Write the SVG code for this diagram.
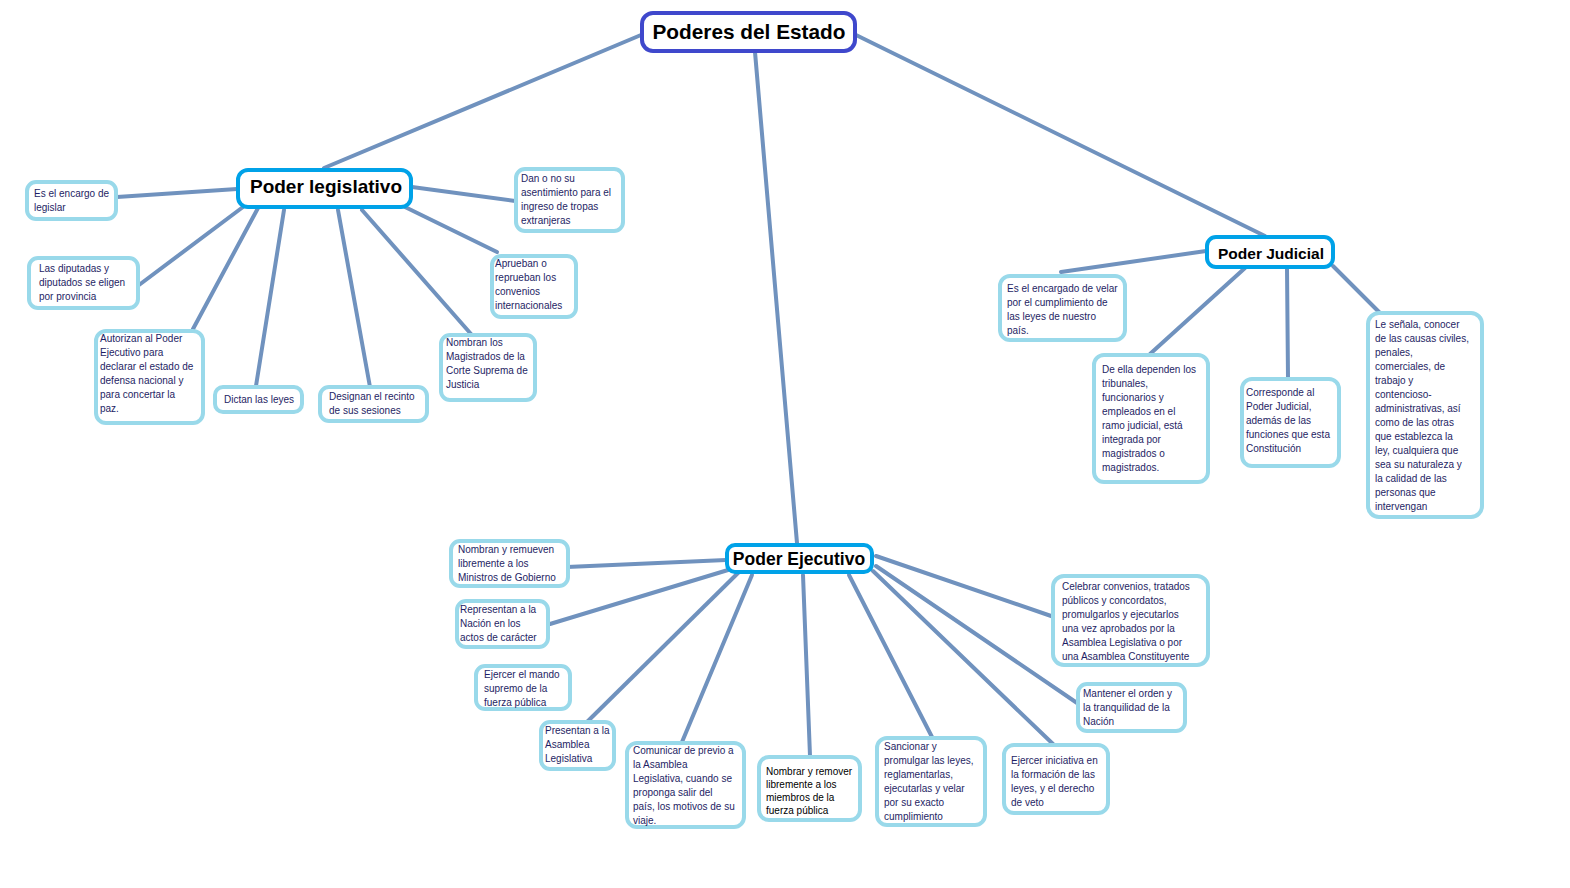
<svg xmlns="http://www.w3.org/2000/svg" width="1570" height="888" viewBox="0 0 1570 888">
<style>
.bg{fill:#ffffff}
.leaf{fill:#ffffff;stroke:#99D9EA;stroke-width:4}
.main{fill:#ffffff;stroke:#00A2E8;stroke-width:4}
.root{fill:#ffffff;stroke:#3F48CC;stroke-width:4}
.con{stroke:#7092BE;stroke-width:4;stroke-linecap:round;fill:none}
.t{font-family:"Liberation Sans",Arial,sans-serif;font-size:10px;fill:#1E1E64}
.tb{font-family:"Liberation Sans",Arial,sans-serif;font-size:10px;fill:#000000}
.h{font-family:"Liberation Sans",Arial,sans-serif;font-weight:bold;fill:#000000}
</style>
<rect class="bg" x="0" y="0" width="1570" height="888"/>
<g id="connectors">
<line class="con" x1="641" y1="35" x2="324" y2="168"/>
<line class="con" x1="856" y1="35" x2="1265" y2="236"/>
<line class="con" x1="755" y1="52" x2="797" y2="543"/>
<line class="con" x1="237" y1="189" x2="117" y2="197"/>
<line class="con" x1="243" y1="207" x2="139" y2="285"/>
<line class="con" x1="258" y1="208" x2="193" y2="329"/>
<line class="con" x1="284" y1="210" x2="256" y2="386"/>
<line class="con" x1="338" y1="210" x2="370" y2="387"/>
<line class="con" x1="362" y1="210" x2="471" y2="334"/>
<line class="con" x1="405" y1="207" x2="497" y2="252"/>
<line class="con" x1="412" y1="187" x2="515" y2="201"/>
<line class="con" x1="1206" y1="251" x2="1061" y2="272"/>
<line class="con" x1="1245" y1="268" x2="1150" y2="354"/>
<line class="con" x1="1287" y1="268" x2="1288" y2="378"/>
<line class="con" x1="1333" y1="266" x2="1380" y2="313"/>
<line class="con" x1="726" y1="560" x2="567" y2="567"/>
<line class="con" x1="728" y1="570" x2="550" y2="624"/>
<line class="con" x1="738" y1="573" x2="588" y2="721"/>
<line class="con" x1="752" y1="575" x2="682" y2="742"/>
<line class="con" x1="803" y1="575" x2="810" y2="756"/>
<line class="con" x1="849" y1="575" x2="932" y2="737"/>
<line class="con" x1="873" y1="571" x2="1053" y2="744"/>
<line class="con" x1="876" y1="566" x2="1080" y2="705"/>
<line class="con" x1="876" y1="556" x2="1054" y2="617"/>
</g>
<g id="root">
<rect class="root" x="642" y="13" width="213" height="38" rx="11"/>
<text class="h" x="749" y="39" font-size="20.8" text-anchor="middle">Poderes del Estado</text>
</g>
<g id="legislativo">
<rect class="main" x="238" y="170" width="173" height="37" rx="10"/>
<text class="h" x="326" y="193" font-size="19" text-anchor="middle">Poder legislativo</text>
</g>
<g id="judicial">
<rect class="main" x="1207" y="237" width="126" height="30" rx="9"/>
<text class="h" x="1271" y="259" font-size="15.5" text-anchor="middle">Poder Judicial</text>
</g>
<g id="ejecutivo">
<rect class="main" x="727" y="545" width="145" height="27" rx="8"/>
<text class="h" x="799" y="565" font-size="17.5" text-anchor="middle">Poder Ejecutivo</text>
</g>
<g id="leg1">
<rect class="leaf" x="27" y="182" width="89" height="37" rx="9"/>
<text class="t" x="34" y="197">Es el encargo de</text>
<text class="t" x="34" y="211">legislar</text>
</g>
<g id="leg2">
<rect class="leaf" x="29" y="258" width="109" height="50" rx="9"/>
<text class="t" x="39" y="272">Las diputadas y</text>
<text class="t" x="39" y="286">diputados se eligen</text>
<text class="t" x="39" y="300">por provincia</text>
</g>
<g id="leg3">
<rect class="leaf" x="96" y="331" width="107" height="92" rx="10"/>
<text class="t" x="100" y="342">Autorizan al Poder</text>
<text class="t" x="100" y="356">Ejecutivo para</text>
<text class="t" x="100" y="370">declarar el estado de</text>
<text class="t" x="100" y="384">defensa nacional y</text>
<text class="t" x="100" y="398">para concertar la</text>
<text class="t" x="100" y="412">paz.</text>
</g>
<g id="leg4">
<rect class="leaf" x="215" y="387" width="87" height="25" rx="8"/>
<text class="t" x="224" y="403">Dictan las leyes</text>
</g>
<g id="leg5">
<rect class="leaf" x="320" y="387" width="107" height="34" rx="9"/>
<text class="t" x="329" y="400">Designan el recinto</text>
<text class="t" x="329" y="414">de sus sesiones</text>
</g>
<g id="leg6">
<rect class="leaf" x="441" y="335" width="94" height="65" rx="9"/>
<text class="t" x="446" y="346">Nombran los</text>
<text class="t" x="446" y="360">Magistrados de la</text>
<text class="t" x="446" y="374">Corte Suprema de</text>
<text class="t" x="446" y="388">Justicia</text>
</g>
<g id="leg7">
<rect class="leaf" x="492" y="256" width="84" height="61" rx="9"/>
<text class="t" x="495" y="267">Aprueban o</text>
<text class="t" x="495" y="281">reprueban los</text>
<text class="t" x="495" y="295">convenios</text>
<text class="t" x="495" y="309">internacionales</text>
</g>
<g id="leg8">
<rect class="leaf" x="516" y="169" width="107" height="62" rx="9"/>
<text class="t" x="521" y="182">Dan o no su</text>
<text class="t" x="521" y="196">asentimiento para el</text>
<text class="t" x="521" y="210">ingreso de tropas</text>
<text class="t" x="521" y="224">extranjeras</text>
</g>
<g id="jud1">
<rect class="leaf" x="1000" y="276" width="125" height="64" rx="10"/>
<text class="t" x="1007" y="292">Es el encargado de velar</text>
<text class="t" x="1007" y="306">por el cumplimiento de</text>
<text class="t" x="1007" y="320">las leyes de nuestro</text>
<text class="t" x="1007" y="334">país.</text>
</g>
<g id="jud2">
<rect class="leaf" x="1094" y="355" width="114" height="127" rx="10"/>
<text class="t" x="1102" y="373">De ella dependen los</text>
<text class="t" x="1102" y="387">tribunales,</text>
<text class="t" x="1102" y="401">funcionarios y</text>
<text class="t" x="1102" y="415">empleados en el</text>
<text class="t" x="1102" y="429">ramo judicial, está</text>
<text class="t" x="1102" y="443">integrada por</text>
<text class="t" x="1102" y="457">magistrados o</text>
<text class="t" x="1102" y="471">magistrados.</text>
</g>
<g id="jud3">
<rect class="leaf" x="1242" y="379" width="97" height="87" rx="10"/>
<text class="t" x="1246" y="396">Corresponde al</text>
<text class="t" x="1246" y="410">Poder Judicial,</text>
<text class="t" x="1246" y="424">además de las</text>
<text class="t" x="1246" y="438">funciones que esta</text>
<text class="t" x="1246" y="452">Constitución</text>
</g>
<g id="jud4">
<rect class="leaf" x="1368" y="313" width="114" height="204" rx="11"/>
<text class="t" x="1375" y="328">Le señala, conocer</text>
<text class="t" x="1375" y="342">de las causas civiles,</text>
<text class="t" x="1375" y="356">penales,</text>
<text class="t" x="1375" y="370">comerciales, de</text>
<text class="t" x="1375" y="384">trabajo y</text>
<text class="t" x="1375" y="398">contencioso-</text>
<text class="t" x="1375" y="412">administrativas, así</text>
<text class="t" x="1375" y="426">como de las otras</text>
<text class="t" x="1375" y="440">que establezca la</text>
<text class="t" x="1375" y="454">ley, cualquiera que</text>
<text class="t" x="1375" y="468">sea su naturaleza y</text>
<text class="t" x="1375" y="482">la calidad de las</text>
<text class="t" x="1375" y="496">personas que</text>
<text class="t" x="1375" y="510">intervengan</text>
</g>
<g id="eje1">
<rect class="leaf" x="451" y="541" width="117" height="45" rx="9"/>
<text class="t" x="458" y="553">Nombran y remueven</text>
<text class="t" x="458" y="567">libremente a los</text>
<text class="t" x="458" y="581">Ministros de Gobierno</text>
</g>
<g id="eje2">
<rect class="leaf" x="457" y="601" width="91" height="46" rx="9"/>
<text class="t" x="460" y="613">Representan a la</text>
<text class="t" x="460" y="627">Nación en los</text>
<text class="t" x="460" y="641">actos de carácter</text>
</g>
<g id="eje3">
<rect class="leaf" x="476" y="666" width="94" height="43" rx="9"/>
<text class="t" x="484" y="678">Ejercer el mando</text>
<text class="t" x="484" y="692">supremo de la</text>
<text class="t" x="484" y="706">fuerza pública</text>
</g>
<g id="eje4">
<rect class="leaf" x="541" y="722" width="73" height="47" rx="9"/>
<text class="t" x="545" y="734">Presentan a la</text>
<text class="t" x="545" y="748">Asamblea</text>
<text class="t" x="545" y="762">Legislativa</text>
</g>
<g id="eje5">
<rect class="leaf" x="627" y="743" width="117" height="84" rx="10"/>
<text class="t" x="633" y="754">Comunicar de previo a</text>
<text class="t" x="633" y="768">la Asamblea</text>
<text class="t" x="633" y="782">Legislativa, cuando se</text>
<text class="t" x="633" y="796">proponga salir del</text>
<text class="t" x="633" y="810">país, los motivos de su</text>
<text class="t" x="633" y="824">viaje.</text>
</g>
<g id="eje6">
<rect class="leaf" x="759" y="757" width="101" height="63" rx="10"/>
<text class="tb" x="766" y="775">Nombrar y remover</text>
<text class="tb" x="766" y="788">libremente a los</text>
<text class="tb" x="766" y="801">miembros de la</text>
<text class="tb" x="766" y="814">fuerza pública</text>
</g>
<g id="eje7">
<rect class="leaf" x="877" y="738" width="108" height="87" rx="10"/>
<text class="t" x="884" y="750">Sancionar y</text>
<text class="t" x="884" y="764">promulgar las leyes,</text>
<text class="t" x="884" y="778">reglamentarlas,</text>
<text class="t" x="884" y="792">ejecutarlas y velar</text>
<text class="t" x="884" y="806">por su exacto</text>
<text class="t" x="884" y="820">cumplimiento</text>
</g>
<g id="eje8">
<rect class="leaf" x="1004" y="745" width="104" height="68" rx="10"/>
<text class="t" x="1011" y="764">Ejercer iniciativa en</text>
<text class="t" x="1011" y="778">la formación de las</text>
<text class="t" x="1011" y="792">leyes, y el derecho</text>
<text class="t" x="1011" y="806">de veto</text>
</g>
<g id="eje9">
<rect class="leaf" x="1078" y="684" width="107" height="47" rx="9"/>
<text class="t" x="1083" y="697">Mantener el orden y</text>
<text class="t" x="1083" y="711">la tranquilidad de la</text>
<text class="t" x="1083" y="725">Nación</text>
</g>
<g id="eje10">
<rect class="leaf" x="1053" y="576" width="155" height="89" rx="11"/>
<text class="t" x="1062" y="590">Celebrar convenios, tratados</text>
<text class="t" x="1062" y="604">públicos y concordatos,</text>
<text class="t" x="1062" y="618">promulgarlos y ejecutarlos</text>
<text class="t" x="1062" y="632">una vez aprobados por la</text>
<text class="t" x="1062" y="646">Asamblea Legislativa o por</text>
<text class="t" x="1062" y="660">una Asamblea Constituyente</text>
</g>
</svg>
